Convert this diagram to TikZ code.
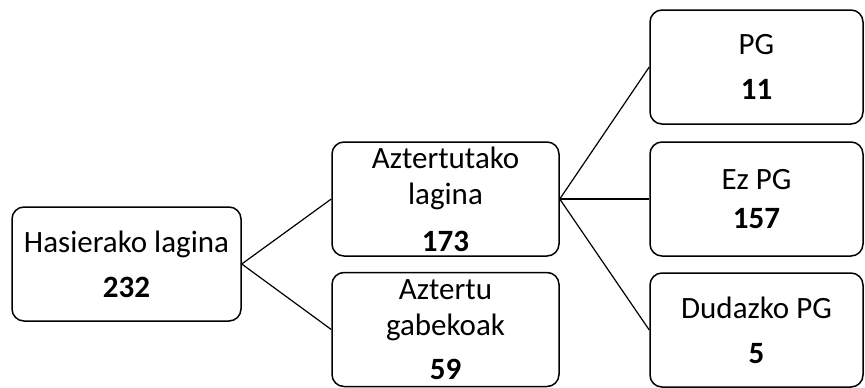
\documentclass[tikz,border=0pt]{standalone}
\usepackage{fontspec}
\setmainfont{Carlito}
\usetikzlibrary{positioning}

\begin{document}
\begin{tikzpicture}[x=1pt,y=-1pt,
  box/.style={draw,line width=1.5pt,rounded corners=12pt,minimum height=114pt,align=center,inner sep=0pt,font=\fontsize{31}{36}\selectfont},
  lnk/.style={line width=1.2pt}]
\useasboundingbox (0,0) rectangle (865,388);
% first level
\node[box,minimum width=229pt] (hasi) at (126.5,264) {Hasierako lagina\\[9pt]\textbf{232}};
% second level
\node[box,minimum width=227pt] (azt) at (445.5,199) {Aztertutako\\lagina\\[11pt]\textbf{173}};
\node[box,minimum width=227pt] (gabe) at (445.5,329.5) {Aztertu\\gabekoak\\[8pt]\textbf{59}};
% third level
\node[box,minimum width=213pt] (pg) at (756.5,67) {PG\\[9pt]\textbf{11}};
\node[box,minimum width=213pt] (ezpg) at (756.5,199) {Ez PG\\[3pt]\textbf{157}};
\node[box,minimum width=213pt] (dud) at (756.5,330) {Dudazko PG\\[9pt]\textbf{5}};
\draw[lnk] (hasi.east)--(azt.west);\draw[lnk] (hasi.east)--(gabe.west);
\draw[lnk] (azt.east)--(pg.west);\draw[lnk] (azt.east)--(ezpg.west);\draw[lnk] (azt.east)--(dud.west);
\end{tikzpicture}
\end{document}
